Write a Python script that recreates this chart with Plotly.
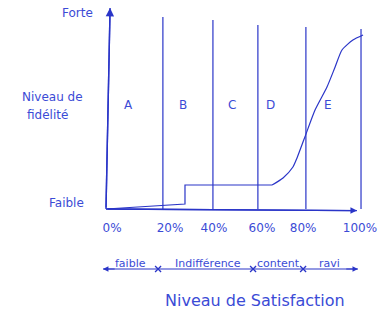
import plotly.graph_objects as go

# ---- data ----
# satisfaction (%) vs loyalty level (arbitrary 0-100)
step_x = [0, 31.1, 31.1, 65.4]
step_y = [0, 2.5, 12, 12]
rise_x = [65.4, 69.7, 73.6, 75.2, 78.3, 82.3, 87.0, 90.2, 92.9, 97.2, 101.2]
rise_y = [12, 15.5, 21, 25.5, 36, 49.5, 61, 71, 79.5, 84.5, 87]

zone_bounds = [22.4, 42.1, 59.8, 78.7, 100.4]   # vertical separators as drawn
zone_tops = [96, 94.5, 92, 91, 90]
zone_letters = ["A", "B", "C", "D", "E"]
zone_letter_x = [8.7, 30.3, 49.6, 64.6, 87.4]

tick_labels = ["0%", "20%", "40%", "60%", "80%", "100%"]
tick_pos = [2.4, 25.2, 42.5, 61.4, 77.6, 100]

sat_labels = ["faible", "Indifférence", "content", "ravi"]
sat_label_x = [9.8, 40, 68, 88]
sat_marks = [20.5, 57.9, 77.6]

LINE = "#2a35c8"
TEXT = "#3b4bd6"
FONT = "DejaVu Sans"

fig = go.Figure()

# separators
for b, t in zip(zone_bounds, zone_tops):
    fig.add_trace(go.Scatter(x=[b, b], y=[0, t], mode="lines",
                             line=dict(color=LINE, width=1.2), hoverinfo="skip"))

# loyalty curve
fig.add_trace(go.Scatter(x=step_x, y=step_y, mode="lines",
                         line=dict(color=LINE, width=1.2), hoverinfo="skip"))
fig.add_trace(go.Scatter(x=rise_x, y=rise_y, mode="lines",
                         line=dict(color=LINE, width=1.2, shape="spline", smoothing=0.6),
                         hoverinfo="skip"))

# satisfaction scale line with x marks
fig.add_trace(go.Scatter(x=[-1.2, 99.2], y=[-30, -30], mode="lines",
                         line=dict(color=LINE, width=1.1), hoverinfo="skip"))
fig.add_trace(go.Scatter(x=sat_marks, y=[-30] * len(sat_marks), mode="markers",
                         marker=dict(symbol="x-thin", size=6, line=dict(color=LINE, width=1.3)),
                         hoverinfo="skip"))

annos = []
# axes arrows
annos.append(dict(x=1.6, y=100.5, ax=0, ay=0, xref="x", yref="y", axref="x", ayref="y",
                  showarrow=True, arrowhead=2, arrowsize=1.2, arrowwidth=1.4, arrowcolor=LINE, text=""))
annos.append(dict(x=98.8, y=-0.8, ax=0, ay=0, xref="x", yref="y", axref="x", ayref="y",
                  showarrow=True, arrowhead=2, arrowsize=1.0, arrowwidth=1.3, arrowcolor=LINE, text=""))
# double arrow heads on scale
annos.append(dict(x=99.2, y=-30, ax=94, ay=-30, xref="x", yref="y", axref="x", ayref="y",
                  showarrow=True, arrowhead=2, arrowsize=1, arrowwidth=1.1, arrowcolor=LINE, text=""))
annos.append(dict(x=-1.2, y=-30, ax=4, ay=-30, xref="x", yref="y", axref="x", ayref="y",
                  showarrow=True, arrowhead=2, arrowsize=1, arrowwidth=1.1, arrowcolor=LINE, text=""))

def txt(x, y, s, size=12):
    annos.append(dict(x=x, y=y, xref="x", yref="y", text=s, showarrow=False,
                      font=dict(family=FONT, size=size, color=TEXT)))

for lx, lt in zip(zone_letter_x, zone_letters):
    txt(lx, 52, lt, 12)
for lx, lt in zip(sat_label_x, sat_labels):
    txt(lx, -27, lt, 11)

txt(-11.4, 98, "Forte", 12)
txt(-15.4, 3, "Faible", 12)
txt(-20.9, 56, "Niveau de", 12)
txt(-23, 47, "fidélité", 12)
txt(58.7, -45.5, "Niveau de Satisfaction", 16)

fig.update_layout(
    width=379, height=323,
    margin=dict(l=0, r=0, t=0, b=0),
    paper_bgcolor="white", plot_bgcolor="white",
    showlegend=False,
    annotations=annos,
    xaxis=dict(range=[-41.73, 107.48], showgrid=False, zeroline=False, showline=False,
               tickvals=tick_pos, ticktext=tick_labels, ticks="",
               tickfont=dict(family=FONT, size=12, color=TEXT),
               anchor="free", position=(323 - 219) / 323, fixedrange=True),
    yaxis=dict(range=[-57, 104.5], showgrid=False, zeroline=False, showline=False,
               showticklabels=False, fixedrange=True),
)

fig.add_shape(type="line", x0=0, y0=0, x1=98.8, y1=-0.8, xref="x", yref="y",
              line=dict(color=LINE, width=1.3))
fig.add_shape(type="line", x0=0, y0=0, x1=1.6, y1=100.5, xref="x", yref="y",
              line=dict(color=LINE, width=1.4))

fig.write_html("out.html")
